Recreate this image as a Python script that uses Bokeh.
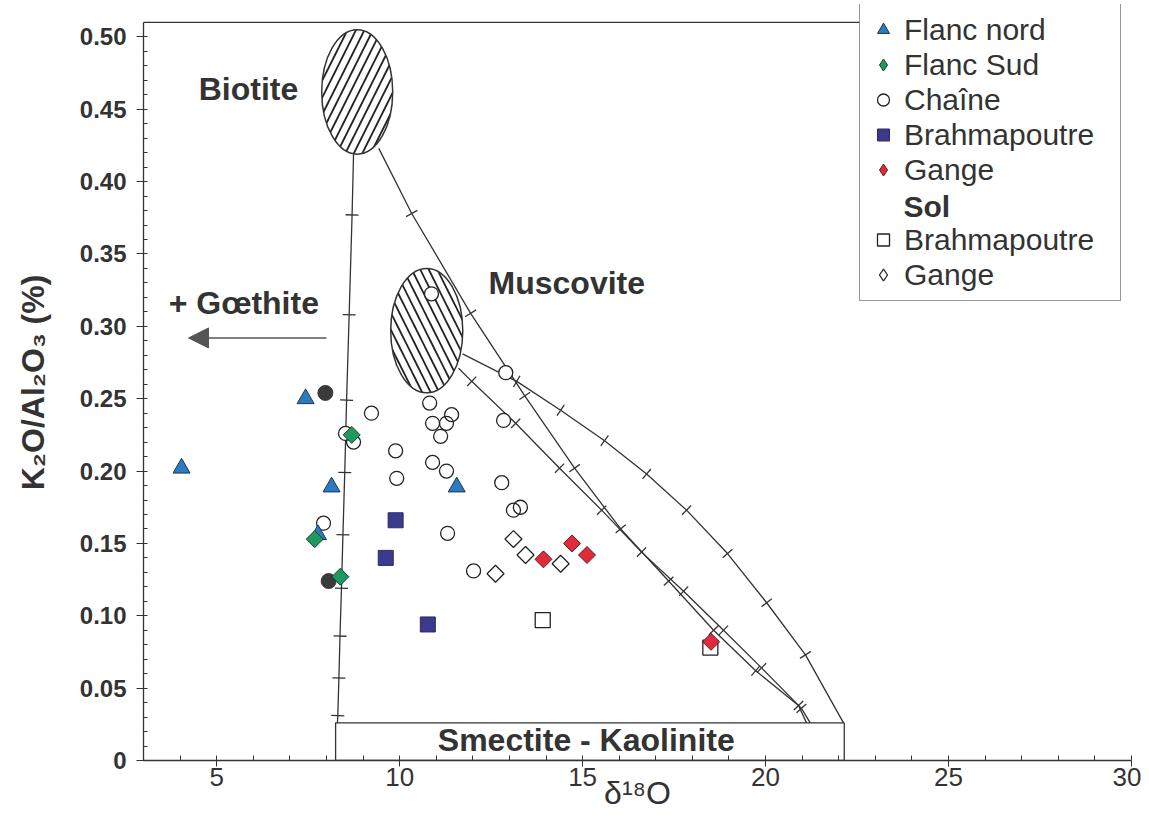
import numpy as np
from bokeh.plotting import figure
from bokeh.models import (Range1d, SingleIntervalTicker, NumeralTickFormatter, Legend,
                          LegendItem, Arrow, NormalHead)
from bokeh.core.properties import value
from bokeh.embed import file_html
from bokeh.resources import INLINE

FONT = "Liberation Sans"
NARROW = "'Liberation Sans Narrow', 'Liberation Sans'"
INK = "#333333"

# ---------------- data ----------------
X_MIN, X_MAX = 3, 30
Y_MIN, Y_MAX = 0, 0.5224
Y_TOP_LINE = 0.51
LEGEND_LEFT_X = 22.56

flanc_nord_x = [4.04, 7.43, 8.14, 11.56, 7.77]
flanc_nord_y = [0.202, 0.250, 0.189, 0.189, 0.156]

flanc_sud_x = [8.69, 7.68, 8.38]
flanc_sud_y = [0.225, 0.153, 0.127]

chaine_x = [10.87, 12.90, 10.82, 9.23, 11.42, 11.28, 10.90, 11.12, 8.52, 8.74, 9.89,
            9.92, 10.90, 11.28, 12.79, 12.84, 7.92, 11.31, 12.02, 13.11, 13.30]
chaine_y = [0.3225, 0.268, 0.247, 0.240, 0.239, 0.233, 0.233, 0.224, 0.226, 0.220, 0.214,
            0.195, 0.206, 0.200, 0.192, 0.235, 0.164, 0.157, 0.131, 0.173, 0.175]

brahma_x = [9.89, 9.62, 10.77]
brahma_y = [0.166, 0.140, 0.094]

gange_x = [14.71, 15.12, 13.93, 18.51]
gange_y = [0.150, 0.142, 0.139, 0.082]

sol_brahma_x = [13.91, 18.49]
sol_brahma_y = [0.097, 0.078]

sol_gange_x = [13.11, 13.44, 14.40, 12.62]
sol_gange_y = [0.153, 0.142, 0.136, 0.129]

dark_x = [7.97, 8.06]
dark_y = [0.254, 0.124]

mineral_names = ["Biotite", "Muscovite"]
mineral_x = [8.84, 10.74]
mineral_y = [0.462, 0.297]
mineral_w = [1.94, 1.97]
mineral_h = [0.086, 0.086]
mineral_hatch = ["/", "\\"]

clay_left, clay_right, clay_top = 8.25, 22.15, 0.026

# mixing curves: start, graduation marks, end
curve_a_x = [8.74, 8.70, 8.62, 8.55, 8.50, 8.45, 8.41, 8.37, 8.34, 8.31, 8.30]
curve_a_y = [0.419, 0.377, 0.308, 0.249, 0.199, 0.156, 0.119, 0.086, 0.057, 0.031, 0.026]
curve_b_x = [9.43, 10.33, 11.94, 13.42, 14.78, 16.04, 17.35, 18.58, 19.73, 20.90, 21.12]
curve_b_y = [0.423, 0.378, 0.309, 0.252, 0.202, 0.160, 0.124, 0.090, 0.062, 0.038, 0.026]
curve_c_x = [11.61, 11.97, 13.17, 14.37, 15.52, 16.61, 17.76, 18.85, 19.89, 20.98, 21.22]
curve_c_y = [0.271, 0.262, 0.233, 0.202, 0.173, 0.144, 0.117, 0.090, 0.064, 0.036, 0.026]
curve_d_x = [11.72, 13.20, 14.40, 15.60, 16.75, 17.84, 18.96, 20.03, 21.09, 22.13]
curve_d_y = [0.281, 0.262, 0.242, 0.221, 0.198, 0.173, 0.143, 0.109, 0.073, 0.026]

text_labels = ["Biotite", "Muscovite", "+ Gœthite"]
text_x = [4.51, 12.43, 3.69]
text_y = [0.464, 0.330, 0.316]

arrow_x = [8.0, 4.23]
arrow_y = [0.292, 0.292]

legend_header = ["Sol"]
legend_header_x = [23.77]
legend_header_y = [0.383]

# ---------------- figure ----------------
W, H = 1141, 814
BL, BR, BT, BB = 143, 10, 4, 54
p = figure(width=W, height=H, output_backend="svg", toolbar_location=None,
           x_range=Range1d(X_MIN, X_MAX), y_range=Range1d(Y_MIN, Y_MAX),
           min_border_left=BL, min_border_right=BR, min_border_top=BT, min_border_bottom=BB)
p.outline_line_color = None
p.grid.visible = False

xa = p.xaxis[0]
xa.ticker = SingleIntervalTicker(interval=5, num_minor_ticks=5)
xa.axis_label = "δ¹⁸O"
xa.axis_label_text_font = FONT
xa.axis_label_text_font_size = "32px"
xa.axis_label_text_font_style = "normal"
xa.axis_label_text_color = INK
xa.axis_label_standoff = -14
xa.major_label_text_font = NARROW
xa.major_label_text_font_size = "26px"
xa.major_label_text_color = INK
xa.major_label_standoff = 1
xa.major_tick_out = 6
xa.major_tick_in = 0
xa.minor_tick_in = 5
xa.minor_tick_out = 0
xa.axis_line_color = INK
xa.axis_line_width = 1.3
xa.major_tick_line_color = INK
xa.minor_tick_line_color = INK

ya = p.yaxis[0]
ya.ticker = SingleIntervalTicker(interval=0.05, num_minor_ticks=5)
ya.formatter = NumeralTickFormatter(format="0.00")
ya.major_label_overrides = {0: "0"}
ya.bounds = (Y_MIN, Y_TOP_LINE)
ya.axis_label = "K₂O/Al₂O₃ (%)"
ya.axis_label_text_font = FONT
ya.axis_label_text_font_size = "32px"
ya.axis_label_text_font_style = "bold"
ya.axis_label_text_color = INK
ya.axis_label_standoff = 26
ya.major_label_text_font = FONT
ya.major_label_text_font_size = "24px"
ya.major_label_text_font_style = "bold"
ya.major_label_text_color = INK
ya.major_label_standoff = 10
ya.major_tick_out = 7
ya.major_tick_in = 3
ya.minor_tick_in = 4
ya.minor_tick_out = 0
ya.axis_line_color = INK
ya.axis_line_width = 1.3
ya.major_tick_line_color = INK
ya.minor_tick_line_color = INK

# top border line of the diagram (runs up to the legend box)
p.segment(x0=[X_MIN], y0=[Y_TOP_LINE], x1=[LEGEND_LEFT_X], y1=[Y_TOP_LINE], line_color=INK, line_width=1.3)

# Smectite - Kaolinite box
p.quad(left=[clay_left], right=[clay_right], bottom=[Y_MIN], top=[clay_top],
       fill_color="white", line_color=INK, line_width=1.3)
p.text(x=[(clay_left + clay_right) / 2 - 0.1], y=[clay_top / 2 + 0.001], text=["Smectite - Kaolinite"],
       text_font=value(FONT), text_font_style="bold", text_font_size="32px",
       text_align="center", text_baseline="middle", text_color=INK)

# mixing curves and their graduations
px_per_x = (W - BL - BR) / (X_MAX - X_MIN)
px_per_y = 756 / (Y_MAX - Y_MIN)
for cx, cy in [(curve_a_x, curve_a_y), (curve_b_x, curve_b_y),
               (curve_c_x, curve_c_y), (curve_d_x, curve_d_y)]:
    p.line(cx, cy, line_color=INK, line_width=1.3)
    ax = np.array(cx); ay = np.array(cy)
    dxs = (ax[2:] - ax[:-2]) * px_per_x
    dys = (ay[2:] - ay[:-2]) * px_per_y
    ang = np.arctan2(dys, dxs) + np.pi / 2
    p.scatter(ax[1:-1], ay[1:-1], marker="dash", angle=ang, size=13,
              line_color=INK, line_width=1.3)

# mineral fields
p.ellipse(x=mineral_x, y=mineral_y, width=mineral_w, height=mineral_h,
          fill_color="white", line_color=INK, line_width=1.5,
          hatch_pattern=mineral_hatch, hatch_scale=17, hatch_weight=1.8, hatch_color="#222222")

# goethite arrow
p.add_layout(Arrow(x_start=arrow_x[0], y_start=arrow_y[0], x_end=arrow_x[1], y_end=arrow_y[1],
                   line_color="#555555", line_width=1.6,
                   end=NormalHead(size=20, fill_color="#555555", line_color="#555555")))

# data points
p.scatter(chaine_x, chaine_y, marker="circle", size=14, fill_color="white", line_color=None)
r_chaine = p.scatter(chaine_x, chaine_y, marker="circle", size=14, fill_alpha=0,
                     line_color="#222222", line_width=1.3)
p.scatter(dark_x, dark_y, marker="circle", size=15, fill_color="#3a3a3a", line_color="#3a3a3a")
r_fn = p.scatter(flanc_nord_x, flanc_nord_y, marker="triangle", size=17,
                 fill_color="#2b7bbf", line_color="#1e3550", line_width=1)
r_sb = p.scatter(sol_brahma_x, sol_brahma_y, marker="square", size=15,
                 fill_color="white", line_color="#222222", line_width=1.3)
p.scatter(sol_gange_x, sol_gange_y, marker="square", angle=np.pi / 4, size=12,
          fill_color="white", line_color="#222222", line_width=1.3)
r_br = p.scatter(brahma_x, brahma_y, marker="square", size=15,
                 fill_color="#3c3a8c", line_color="#2c2a66", line_width=1)
p.scatter(gange_x, gange_y, marker="square", angle=np.pi / 4, size=12,
          fill_color="#e12a3c", line_color="#5a2020", line_width=1)
p.scatter(flanc_sud_x, flanc_sud_y, marker="square", angle=np.pi / 4, size=12,
          fill_color="#1f9a5e", line_color="#1d3d2a", line_width=1)

# legend proxies (diamond shapes), placed off-data (NaN) so only the legend shows them
nan = [float("nan")]
lg_fs = p.scatter(x=nan, y=nan, marker="diamond", fill_color="#1f9a5e", line_color="#1d3d2a", line_width=1)
lg_ga = p.scatter(x=nan, y=nan, marker="diamond", fill_color="#e12a3c", line_color="#5a2020", line_width=1)
lg_sg = p.scatter(x=nan, y=nan, marker="diamond", fill_color="white", line_color="#222222", line_width=1.3)
lg_sol = p.scatter(x=nan, y=nan, marker="circle", fill_alpha=0, line_alpha=0)

# labels
p.text(x=text_x, y=text_y, text=text_labels, text_font=value(FONT), text_font_style="bold",
       text_font_size="32px", text_align="left", text_baseline="middle", text_color=INK)

# bold "Sol" sub-heading inside the legend box
p.text(x=legend_header_x, y=legend_header_y, text=legend_header, text_font=value(FONT),
       text_font_style="bold", text_font_size="30px", text_align="left",
       text_baseline="middle", text_color=INK)

legend = Legend(items=[
    LegendItem(label="Flanc nord", renderers=[r_fn]),
    LegendItem(label="Flanc Sud", renderers=[lg_fs]),
    LegendItem(label="Chaîne", renderers=[r_chaine]),
    LegendItem(label="Brahmapoutre", renderers=[r_br]),
    LegendItem(label="Gange", renderers=[lg_ga]),
    LegendItem(label=" ", renderers=[lg_sol]),
    LegendItem(label="Brahmapoutre", renderers=[r_sb]),
    LegendItem(label="Gange", renderers=[lg_sg]),
], location=(716, 459))
legend.glyph_width = 30
legend.glyph_height = 35
legend.label_height = 35
legend.label_width = 208
legend.spacing = 0
legend.padding = 8
legend.margin = 0
legend.label_standoff = 6
legend.label_text_font = FONT
legend.label_text_font_size = "30px"
legend.label_text_color = INK
legend.border_line_color = INK
legend.border_line_width = 1.3
legend.background_fill_alpha = 0
p.add_layout(legend)

open("out.html", "w").write(file_html(p, INLINE))
